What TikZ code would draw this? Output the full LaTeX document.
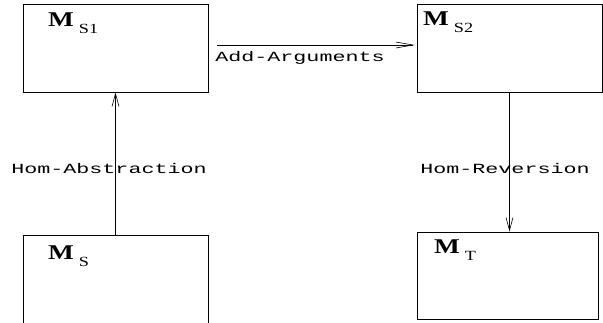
\documentclass[tikz,border=0pt]{standalone}
\usepackage{fontspec}
\setmainfont{Liberation Serif}
\newfontfamily\lblfont[FakeStretch=1.55]{Liberation Mono}
\newfontfamily\namefont[FakeStretch=1.3]{Liberation Serif}
\usetikzlibrary{arrows.meta}

\newcommand{\mname}[1]{{\namefont\fontsize{21}{21}\selectfont\bfseries M}\hspace{5pt}\raisebox{-7.5pt}{\namefont\fontsize{14}{14}\selectfont #1}}

\begin{document}
\begin{tikzpicture}[x=1pt, y=-1pt,
  model/.style={draw, line width=0.8pt, minimum width=185pt, minimum height=88pt, inner sep=0pt},
  lbl/.style={font=\lblfont\fontsize{14}{14}\selectfont, inner sep=0pt},
  arr/.style={-{Straight Barb[length=13pt,width=7pt]}, line width=0.6pt}]

\clip (0,0) rectangle (603,322);

% the four models
\node[model] (s1) at (115.5,48) {};
\node[model] (s2) at (509.5,48) {};
\node[model] (s) at (115.5,279) {};
\node[model, minimum width=181pt, minimum height=87pt] (t) at (507.5,275.5) {};

\node[anchor=base west, inner sep=0pt] (s1name) at (48,26) {\mname{S1}};
\node[anchor=base west, inner sep=0pt] (s2name) at (423,25) {\mname{S2}};
\node[anchor=base west, inner sep=0pt] (sname) at (48,259) {\mname{S}};
\node[anchor=base west, inner sep=0pt] (tname) at (434,253) {\mname{T}};

% transformations
\draw[arr] (s.north) -- (s1.south);
\draw[-{Straight Barb[length=17pt,width=6pt]}, line width=0.6pt, shorten <=9pt, shorten >=2pt] ([yshift=3pt]s1.east) -- ([yshift=3pt]s2.west);
\draw[arr] (s2.south) -- (s2.south |- t.north);

\node[lbl] (addlbl) at (300,58) {Add-Arguments};
\node[lbl] (abslbl) at (109,168) {Hom-Abstraction};
\node[lbl] (revlbl) at (505,168) {Hom-Reversion};
\end{tikzpicture}
\end{document}
